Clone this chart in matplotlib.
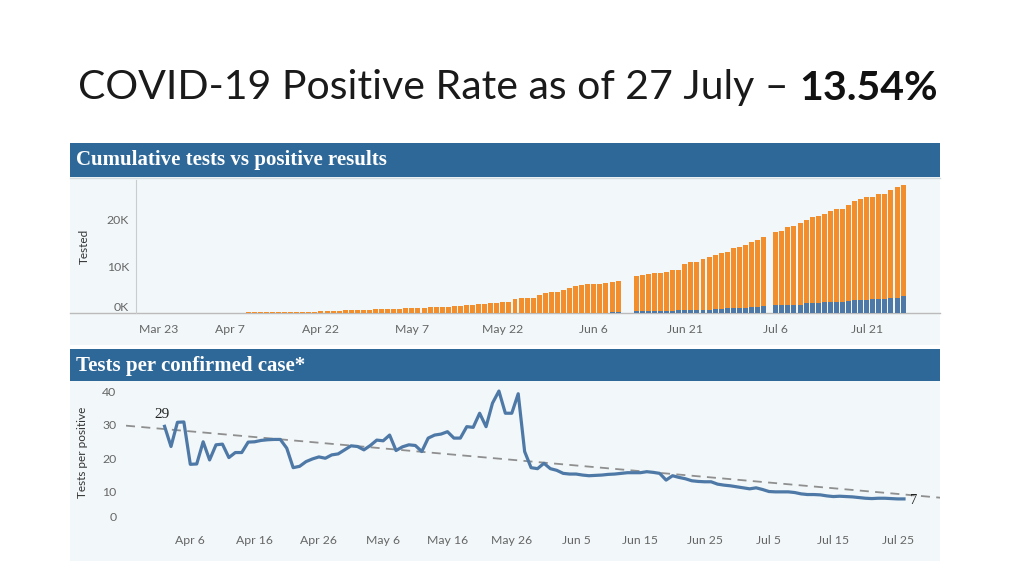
import numpy as np
import pandas as pd
import matplotlib
matplotlib.use('Agg')
import matplotlib.pyplot as plt
import matplotlib.dates as mdates
from matplotlib.patches import Rectangle
from matplotlib.lines import Line2D
from matplotlib.transforms import ScaledTranslation

# ---------------- DATA ----------------
title_main = "COVID-19 Positive Rate as of 27 July \u2013 "
title_rate = "13.54%"
panel1_title = "Cumulative tests vs positive results"
panel2_title = "Tests per confirmed case*"

# Cumulative tests (thousands), three runs of consecutive days (gaps = missing days)
seg_starts = ["2020-04-05", "2020-06-13", "2020-07-06"]
tested_seg1 = [0.04, 0.05, 0.05, 0.06, 0.08,
               0.18, 0.19, 0.2, 0.2, 0.2, 0.21, 0.22, 0.22, 0.23, 0.24, 0.25, 0.26,
               0.42, 0.44, 0.46, 0.48,
               0.6, 0.62, 0.64, 0.66, 0.68,
               0.85, 0.88, 0.9, 0.92, 0.95,
               1.05, 1.1, 1.18,
               1.22, 1.25, 1.27, 1.3, 1.32,
               1.6, 1.65, 1.7,
               1.85, 1.9, 1.95,
               2.1, 2.15,
               2.45, 2.5,
               3.0,
               3.25, 3.3, 3.35,
               4.0, 4.3, 4.5, 4.55, 5.0, 5.4, 5.85, 5.95, 6.2, 6.3, 6.35, 6.45, 6.7, 6.95]
positive_seg1 = [0.01, 0.01, 0.01, 0.01, 0.01, 0.02, 0.02, 0.02, 0.02, 0.02, 0.03, 0.03, 0.03,
                 0.03, 0.03, 0.03, 0.03,
                 0.04, 0.04, 0.04, 0.04, 0.05, 0.05, 0.05, 0.05, 0.05, 0.06, 0.06, 0.06, 0.06, 0.06,
                 0.07, 0.07, 0.07, 0.08, 0.08, 0.08, 0.08, 0.08, 0.09, 0.09, 0.09, 0.09, 0.09,
                 0.1, 0.1, 0.1, 0.1, 0.11, 0.11, 0.11, 0.11, 0.12, 0.12, 0.12, 0.12, 0.13,
                 0.14, 0.14, 0.15, 0.15, 0.16, 0.16, 0.17, 0.17, 0.18, 0.35]
tested_seg2 = [8.0, 8.2, 8.4, 8.6, 8.7, 8.9, 9.3, 9.3, 10.6, 11.0, 11.0, 11.7, 12.0, 12.5,
               12.9, 13.2, 14.0, 14.1, 14.7, 15.2, 15.7, 16.3]
positive_seg2 = [0.42, 0.42, 0.43, 0.43, 0.44, 0.44, 0.45, 0.6, 0.6, 0.78, 0.78, 0.8, 0.8,
                 0.98, 1.0, 1.18, 1.2, 1.2, 1.22, 1.35, 1.37, 1.5]
tested_seg3 = [17.4, 17.5, 18.4, 18.7, 19.2, 20.0, 20.5, 20.9, 21.3, 21.9, 22.2, 22.3, 23.2,
               24.1, 24.4, 24.8, 24.8, 25.6, 25.6, 26.4, 26.9, 27.4]
positive_seg3 = [1.72, 1.72, 1.74, 1.85, 1.87, 2.1, 2.3, 2.3, 2.32, 2.5, 2.5, 2.52, 2.65, 2.85,
                 2.86, 2.88, 3.05, 3.06, 3.08, 3.2, 3.22, 3.7]
top_xticks = ["2020-03-23", "2020-04-07", "2020-04-22", "2020-05-07", "2020-05-22",
              "2020-06-06", "2020-06-21", "2020-07-06", "2020-07-21"]
top_xlabels = ["Mar 23", "Apr 7", "Apr 22", "May 7", "May 22", "Jun 6", "Jun 21", "Jul 6", "Jul 21"]
top_yticks = [0, 10, 20]
top_ylabels = ["0K", "10K", "20K"]

# Tests per positive, daily Apr 2 - Jul 26
ratio_start = "2020-04-02"
tests_per_positive = [
    29.5, 23.5, 30.7, 30.8, 18.2, 18.3, 24.9, 19.5, 24.0, 24.2,
    20.2, 21.7, 21.7, 24.8, 24.9, 25.3, 25.5, 25.6, 25.6, 23.0,
    17.2, 17.6, 19.0, 19.8, 20.4, 20.0, 21.0, 21.3, 22.5, 23.7,
    23.5, 22.5, 23.8, 25.4, 25.2, 26.9, 22.3, 23.4, 24.0, 23.8,
    22.0, 26.0, 26.9, 27.2, 27.9, 26.0, 26.0, 29.4, 29.2, 33.4,
    29.4, 36.4, 40.0, 33.4, 33.4, 39.2, 22.0, 17.2, 16.9, 18.5,
    16.9, 16.4, 15.5, 15.3, 15.3, 15.0, 14.8, 14.9, 15.0, 15.2,
    15.3, 15.5, 15.7, 15.7, 15.7, 16.0, 15.8, 15.5, 13.5, 14.8,
    14.3, 13.9, 13.3, 13.1, 13.0, 13.0, 12.3, 12.0, 11.8, 11.5,
    11.2, 10.9, 11.2, 10.7, 10.1, 10.0, 10.0, 10.0, 9.8, 9.4,
    9.2, 9.2, 9.1, 8.8, 8.6, 8.7, 8.6, 8.5, 8.3, 8.1,
    8.0, 8.1, 8.1, 8.0, 7.9, 7.9]
trend_dates = ["2020-03-27", "2020-08-01"]
trend_values = [29.7, 8.2]
start_label = "29"
end_label = "7"
bot_xticks = ["2020-04-06", "2020-04-16", "2020-04-26", "2020-05-06", "2020-05-16",
              "2020-05-26", "2020-06-05", "2020-06-15", "2020-06-25", "2020-07-05",
              "2020-07-15", "2020-07-25"]
bot_xlabels = ["Apr 6", "Apr 16", "Apr 26", "May 6", "May 16", "May 26", "Jun 5",
               "Jun 15", "Jun 25", "Jul 5", "Jul 15", "Jul 25"]
bot_yticks = [0, 10, 20, 30, 40]

# ---------------- STYLE ----------------
ORANGE = '#F28E2B'
BLUE = '#4E79A7'
HEADER = '#2E6898'
PANEL = '#F2F7F9'
TICKC = '#666666'
TICKFS = 8.8
W, H = 1024, 576

fig = plt.figure(figsize=(W / 100, H / 100), dpi=100)
fig.patch.set_facecolor('white')


def rect(x0, y0, x1, y1):
    return [x0 / W, 1 - y1 / H, (x1 - x0) / W, (y1 - y0) / H]


def fig_box(x0, y0, x1, y1, color):
    fig.patches.append(Rectangle((x0 / W, 1 - y1 / H), (x1 - x0) / W, (y1 - y0) / H,
                                 transform=fig.transFigure, facecolor=color,
                                 edgecolor='none', zorder=-2))


def fig_hline(y, x0, x1, color, lw):
    fig.lines.append(Line2D([x0 / W, x1 / W], [1 - y / H, 1 - y / H],
                            transform=fig.transFigure, color=color, lw=lw, zorder=-1))


# panels
fig_box(70, 143, 940, 177, HEADER)
fig_box(70, 177, 940, 345, PANEL)
fig_box(70, 349, 940, 381, HEADER)
fig_box(70, 381, 940, 561, PANEL)
fig_hline(178.5, 70, 940, '#D5DCE0', 1.0)
fig_hline(313.3, 70, 940, '#BBBBBB', 1.0)

fig.text(76 / W, 1 - 160.5 / H, panel1_title, color='white', fontsize=15,
         fontweight='bold', family='Liberation Serif', va='center', ha='left')
fig.text(76 / W, 1 - 366.5 / H, panel2_title, color='white', fontsize=15,
         fontweight='bold', family='Liberation Serif', va='center', ha='left')

# title
t1 = fig.text(78 / W, 1 - 88 / H, title_main, fontsize=30, family='Lato',
              fontweight='normal', va='center', ha='left', color='#1a1a1a')
t2 = fig.text(0, 1 - 88 / H, title_rate, fontsize=30, family='Lato',
              fontweight='bold', va='center', ha='left', color='#111111')
fig.canvas.draw()
r = fig.canvas.get_renderer()
w1 = t1.get_window_extent(r).width
w2 = t2.get_window_extent(r).width
scale = 857.0 / (w1 + w2)
t1.set_fontsize(30 * scale)
t2.set_fontsize(30 * scale)
fig.canvas.draw()
w1 = t1.get_window_extent(r).width
t2.set_x((78 + w1) / W)

# ---------------- TOP CHART ----------------
ax1 = fig.add_axes(rect(136, 180, 940, 313.3))
ax1.set_facecolor('none')
lens = [len(tested_seg1), len(tested_seg2), len(tested_seg3)]
dates = np.concatenate([pd.date_range(s, periods=n, freq='D').values
                        for s, n in zip(seg_starts, lens)])
tested = np.array(tested_seg1 + tested_seg2 + tested_seg3)
positive = np.array(positive_seg1 + positive_seg2 + positive_seg3)
xd = mdates.date2num(dates)
ax1.bar(xd, tested, width=0.82, color=ORANGE, zorder=2, linewidth=0)
ax1.bar(xd, positive, width=0.82, color=BLUE, zorder=3, linewidth=0)
ax1.set_xlim(mdates.date2num(np.datetime64('2020-03-22T12')),
             mdates.date2num(np.datetime64('2020-08-02T02')))
ax1.set_ylim(0, 28.5)
ax1.set_yticks(top_yticks)
ax1.set_yticklabels(top_ylabels)
ax1.set_xticks(mdates.date2num(np.array(top_xticks, dtype='datetime64[D]')))
ax1.set_xticklabels(top_xlabels)
for s in ['top', 'right', 'bottom']:
    ax1.spines[s].set_visible(False)
ax1.spines['left'].set_color('#CCCCCC')
ax1.tick_params(length=0, labelsize=TICKFS, labelcolor=TICKC, pad=5)
ax1.tick_params(axis='x', pad=8)
for lab in ax1.get_xticklabels():
    lab.set_family('Lato')
for lab in ax1.get_yticklabels():
    lab.set_family('Lato')
ax1.get_xticklabels()[0].set_ha('left')
ax1.get_yticklabels()[0].set_va('bottom')
ax1.set_ylabel('Tested', fontsize=8.5, color='#333333', family='Lato')
ax1.yaxis.set_label_coords((90 - 136) / 804, 0.5)

# ---------------- BOTTOM CHART ----------------
ax2 = fig.add_axes(rect(126, 385, 940, 530.5))
ax2.set_facecolor('none')
rdates = pd.date_range(ratio_start, periods=len(tests_per_positive), freq='D').values
rx = mdates.date2num(rdates)
tx = mdates.date2num(np.array(trend_dates, dtype='datetime64[D]'))
ax2.plot(tx, trend_values, color='#8F8F8F', lw=1.3, dashes=(5, 3.5), zorder=2)
ax2.plot(rx, tests_per_positive, color=BLUE, lw=2.3, zorder=3, solid_joinstyle='round')
ax2.set_xlim(tx[0], tx[1] - 0.4)
ax2.set_ylim(-1.5, 41.8)
ax2.set_yticks(bot_yticks)
ax2.set_xticks(mdates.date2num(np.array(bot_xticks, dtype='datetime64[D]')))
ax2.set_xticklabels(bot_xlabels)
for s in ax2.spines.values():
    s.set_visible(False)
ax2.tick_params(length=0, labelsize=TICKFS, labelcolor=TICKC, pad=7)
ax2.tick_params(axis='x', pad=3)
for lab in ax2.get_xticklabels() + ax2.get_yticklabels():
    lab.set_family('Lato')
zero_lab = ax2.get_yticklabels()[0]
zero_lab.set_transform(zero_lab.get_transform() + ScaledTranslation(0, 9 / 100, fig.dpi_scale_trans))
ax2.set_ylabel('Tests per positive', fontsize=8.5, color='#333333', family='Lato')
ax2.yaxis.set_label_coords((88 - 126) / 814, 0.54)
ax2.annotate(start_label, (rx[0], tests_per_positive[0]), xytext=(-2, 4),
             textcoords='offset points', ha='center', va='bottom', fontsize=11,
             family='Liberation Serif', color='#222222')
ax2.annotate(end_label, (rx[-1], tests_per_positive[-1]), xytext=(4, -1),
             textcoords='offset points', ha='left', va='center', fontsize=10.5,
             family='Liberation Serif', color='#222222')

fig.savefig('out.png', dpi=100, facecolor='white')
